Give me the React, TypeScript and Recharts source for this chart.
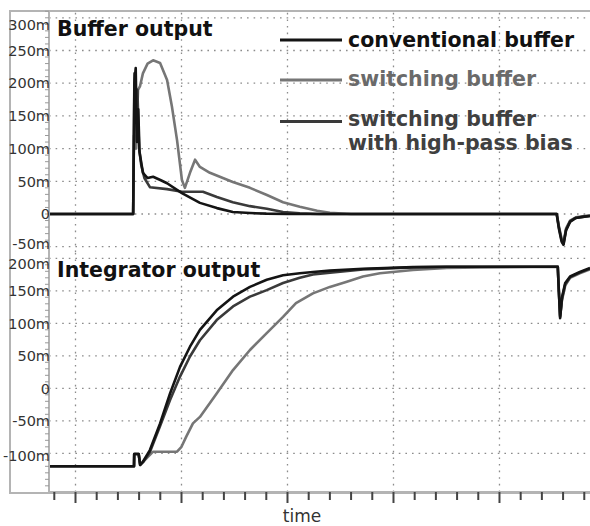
import React from 'react';
import { LineChart, Line, XAxis, YAxis, ReferenceLine, Legend } from 'recharts';

// ---- time axis (arbitrary units, one minor tick per unit) ----
const X_DOMAIN: [number, number] = [-0.25, 25.27];
const TIME_TICKS = [0, 1, 2, 3, 4, 5, 6, 7, 8, 9, 10, 11, 12, 13, 14, 15, 16, 17, 18, 19, 20, 21, 22, 23, 24, 25];
const TIME_MAJOR = [1, 6, 11, 16, 21];

// ---- Buffer output (mV) ----
const BUF_DOMAIN: [number, number] = [-58.1, 311.9];
const BUF_TICKS = [-50, -40, -30, -20, -10, 0, 10, 20, 30, 40, 50, 60, 70, 80, 90, 100, 110, 120, 130, 140, 150, 160, 170, 180, 190, 200, 210, 220, 230, 240, 250, 260, 270, 280, 290, 300, 310];
const BUF_LABELS = [-50, 0, 50, 100, 150, 200, 250, 300];

const convBufT = [-0.25, 3.72, 3.78, 3.84, 3.9, 3.96, 4.02, 4.18, 4.4, 4.66, 5.0, 5.32, 6.02, 6.87, 7.67, 8.42, 9.23, 10.0, 11.0, 23.7, 23.8, 23.93, 24.02, 24.14, 24.33, 24.6, 25.0, 25.27];
const convBufV = [0, 0, 200, 223, 110, 160, 95, 63, 55, 57, 52, 47, 32, 17, 9, 3, 1.5, 0.5, 0, 0, -22, -42, -47, -25, -12, -6, -4, -3];

const swBufT = [-0.25, 3.72, 3.76, 3.85, 3.95, 4.04, 4.18, 4.4, 4.66, 4.99, 5.32, 5.55, 5.79, 6.02, 6.16, 6.4, 6.64, 6.87, 7.34, 8.42, 9.23, 10.03, 10.79, 11.58, 12.4, 13.0, 14.0, 23.7, 23.8, 23.93, 24.02, 24.14, 24.33, 24.6, 25.0, 25.27];
const swBufV = [0, 0, 120, 100, 190, 195, 215, 230, 235, 231, 205, 164, 113, 52, 40, 63, 83, 72, 63, 49, 40, 29, 18, 11, 5, 2, 0, 0, -18, -38, -44, -22, -10, -5, -3, -2];

const hpBufT = [-0.25, 3.72, 3.78, 3.86, 3.92, 4.0, 4.1, 4.25, 4.51, 5.32, 6.02, 7.01, 7.67, 8.42, 9.23, 10.03, 10.79, 11.58, 12.5, 23.7, 23.8, 23.93, 24.02, 24.14, 24.33, 24.6, 25.0, 25.27];
const hpBufV = [0, 0, 215, 150, 190, 100, 75, 55, 41, 38, 34, 34, 26, 18, 12, 8, 3, 1, 0, 0, -20, -40, -46, -24, -11, -6, -4, -3];

// ---- Integrator output (mV) ----
const INT_DOMAIN: [number, number] = [-159.5, 209.7];
const INT_TICKS = [-150, -140, -130, -120, -110, -100, -90, -80, -70, -60, -50, -40, -30, -20, -10, 0, 10, 20, 30, 40, 50, 60, 70, 80, 90, 100, 110, 120, 130, 140, 150, 160, 170, 180, 190, 200];
const INT_LABELS = [-100, -50, 0, 50, 100, 150, 200];

const convIntT = [-0.25, 3.76, 3.77, 3.98, 4.05, 4.18, 4.51, 4.99, 5.46, 5.93, 6.4, 6.87, 7.66, 8.43, 9.23, 10.02, 10.79, 11.58, 12.2, 13.0, 14.56, 16.92, 18.52, 23.75, 23.8, 23.86, 23.95, 24.1, 24.33, 24.79, 25.27];
const convIntV = [-120, -120, -101, -101, -118, -113, -95, -54, -8, 33, 64, 90, 120, 141, 156, 167, 174, 177, 179, 181, 184, 186.5, 187, 187, 150, 108, 140, 162, 172, 179, 185];

const swIntT = [-0.25, 3.76, 3.77, 3.98, 4.05, 4.28, 4.66, 5.79, 6.0, 6.23, 6.54, 6.87, 7.66, 8.43, 9.23, 10.02, 10.79, 11.4, 12.2, 13.0, 13.8, 14.56, 15.36, 16.92, 18.52, 20.08, 23.75, 23.8, 23.86, 23.95, 24.1, 24.33, 24.79, 25.27];
const swIntV = [-120, -120, -101, -101, -117, -110, -97.5, -97.5, -90, -74, -54, -44, -8, 28, 59, 85, 110, 131, 146, 156, 164, 172, 177, 182, 185, 186, 187, 150, 112, 136, 158, 170, 177, 183];

const hpIntT = [-0.25, 3.76, 3.77, 3.98, 4.05, 4.18, 4.51, 4.99, 5.46, 5.93, 6.4, 6.87, 7.66, 8.43, 9.23, 10.02, 10.79, 11.58, 12.2, 13.0, 14.56, 16.92, 18.52, 23.75, 23.8, 23.86, 23.95, 24.1, 24.33, 24.79, 25.27];
const hpIntV = [-120, -120, -101, -101, -118, -114, -98, -58, -18, 18, 49, 74, 105, 126, 141, 151, 162, 170, 175, 178, 183, 186, 187, 187, 150, 110, 138, 160, 171, 178, 184];

const SERIES = ['conventional buffer', 'switching buffer', 'switching buffer with high-pass bias'];
const COLORS = ['#141414', '#767676', '#3a3a3a'];

const zip = (t: number[], v: number[]) => t.map((tt, i) => ({ t: tt, v: v[i] }));

const FONT = 'DejaVu Sans, Verdana, sans-serif';
const FRAME = '#b4b4b4';
const GRID = '#8c8c8c';
const DASH = '1.6 5';

const fmt = (v: number) => (v === 0 ? '0' : `${v}m`);

const YTick = (props: any) => {
  const { x, y, payload, labels, shift } = props;
  const v = payload.value;
  const dy = (shift && shift[v]) || 0;
  return (
    <g>
      <line x1={x - 4} x2={x} y1={y} y2={y} stroke="#9a9a9a" strokeWidth={1} />
      {labels.includes(v) && (
        <text x={x + 1} y={y + dy} dy="0.36em" textAnchor="end" fontSize={14.5} fill="#333" fontFamily={FONT}>
          {fmt(v)}
        </text>
      )}
    </g>
  );
};

const XTick = (props: any) => {
  const { x, y, payload } = props;
  const major = TIME_MAJOR.includes(payload.value);
  return <line x1={x} x2={x} y1={y} y2={y + (major ? 11 : 8)} stroke="#444" strokeWidth={2} />;
};

const TopOverlay = () => (
  <svg width={590} height={160} style={{ display: 'block', pointerEvents: 'none' }}>
    <text x={57} y={36} fontSize={20.5} fontWeight="bold" fontFamily={FONT} fill="#111">Buffer output</text>
    <line x1={280} x2={342} y1={40} y2={40} stroke={COLORS[0]} strokeWidth={3} />
    <line x1={280} x2={342} y1={80} y2={80} stroke={COLORS[1]} strokeWidth={3} />
    <line x1={280} x2={342} y1={121.5} y2={121.5} stroke={COLORS[2]} strokeWidth={3} />
    <text x={348} y={47} fontSize={20.5} fontWeight="bold" fontFamily={FONT} fill="#111">{SERIES[0]}</text>
    <text x={348} y={86} fontSize={20.5} fontWeight="bold" fontFamily={FONT} fill="#6a6a6a">{SERIES[1]}</text>
    <text x={348} y={126} fontSize={20.5} fontWeight="bold" fontFamily={FONT} fill="#404040">switching buffer</text>
    <text x={348} y={150} fontSize={20.5} fontWeight="bold" fontFamily={FONT} fill="#404040">with high-pass bias</text>
  </svg>
);

const BottomOverlay = () => (
  <svg width={590} height={274} style={{ display: 'block', pointerEvents: 'none' }}>
    <text x={57} y={25} fontSize={20.5} fontWeight="bold" fontFamily={FONT} fill="#111">Integrator output</text>
    <text x={302} y={270} textAnchor="middle" fontSize={17} fontFamily={FONT} fill="#333">time</text>
  </svg>
);

const gridLines = (yVals: number[]) => [
  ...yVals.map((v) => (
    <ReferenceLine key={`h${v}`} y={v} stroke={GRID} strokeDasharray={DASH} strokeWidth={1.3} ifOverflow="hidden" />
  )),
  ...TIME_MAJOR.map((v) => (
    <ReferenceLine key={`v${v}`} x={v} stroke={GRID} strokeDasharray={DASH} strokeWidth={1.3} ifOverflow="hidden" />
  )),
];

export default function App() {
  return (
    <div style={{ position: 'absolute', left: 0, top: 0, width: 590, height: 526, overflow: 'hidden', background: '#fff' }}>
      <div
        style={{
          position: 'absolute', left: 9, top: 10, width: 600, height: 480,
          borderLeft: `2px solid ${FRAME}`, borderTop: `2px solid ${FRAME}`, borderBottom: `2px solid ${FRAME}`,
        }}
      />
      <div style={{ position: 'absolute', left: 0, top: 0 }}>
        <LineChart width={590} height={254} margin={{ top: 10, right: 0, left: 0, bottom: 2 }}>
          <XAxis
            type="number"
            dataKey="t"
            domain={X_DOMAIN}
            allowDataOverflow
            height={0}
            tick={false}
            tickLine={false}
            axisLine={{ stroke: FRAME, strokeWidth: 2 }}
          />
          <YAxis
            type="number"
            domain={BUF_DOMAIN}
            allowDataOverflow
            ticks={BUF_TICKS}
            interval={0}
            width={49}
            tickSize={0}
            tickMargin={0}
            tickLine={false}
            axisLine={{ stroke: FRAME, strokeWidth: 2 }}
            tick={(p: any) => <YTick {...p} labels={BUF_LABELS} shift={{ 300: 7, '-50': -3 }} />}
          />
          {gridLines(BUF_LABELS)}
          <Line data={zip(swBufT, swBufV)} dataKey="v" name={SERIES[1]} stroke={COLORS[1]} strokeWidth={2.6} dot={false} isAnimationActive={false} strokeLinejoin="round" />
          <Line data={zip(hpBufT, hpBufV)} dataKey="v" name={SERIES[2]} stroke={COLORS[2]} strokeWidth={2.6} dot={false} isAnimationActive={false} strokeLinejoin="round" />
          <Line data={zip(convBufT, convBufV)} dataKey="v" name={SERIES[0]} stroke={COLORS[0]} strokeWidth={2.6} dot={false} isAnimationActive={false} strokeLinejoin="round" />
          <Legend layout="vertical" align="center" verticalAlign="middle" wrapperStyle={{ left: 0, top: 0, width: 590, height: 160 }} content={() => <TopOverlay />} />
        </LineChart>
      </div>
      <div style={{ position: 'absolute', left: 0, top: 252 }}>
        <LineChart width={590} height={274} margin={{ top: 0, right: 0, left: 0, bottom: 0 }}>
          <XAxis
            type="number"
            dataKey="t"
            domain={X_DOMAIN}
            allowDataOverflow
            ticks={TIME_TICKS}
            interval={0}
            height={34}
            tickSize={0}
            tickMargin={0}
            tickLine={false}
            axisLine={{ stroke: FRAME, strokeWidth: 2 }}
            tick={(p: any) => <XTick {...p} />}
          />
          <YAxis
            type="number"
            domain={INT_DOMAIN}
            allowDataOverflow
            ticks={INT_TICKS}
            interval={0}
            width={49}
            tickSize={0}
            tickMargin={0}
            tickLine={false}
            axisLine={{ stroke: FRAME, strokeWidth: 2 }}
            tick={(p: any) => <YTick {...p} labels={INT_LABELS} shift={{ 200: 5, '-100': 2 }} />}
          />
          {gridLines(INT_LABELS)}
          <Line data={zip(swIntT, swIntV)} dataKey="v" name={SERIES[1]} stroke={COLORS[1]} strokeWidth={2.6} dot={false} isAnimationActive={false} strokeLinejoin="round" />
          <Line data={zip(hpIntT, hpIntV)} dataKey="v" name={SERIES[2]} stroke={COLORS[2]} strokeWidth={2.6} dot={false} isAnimationActive={false} strokeLinejoin="round" />
          <Line data={zip(convIntT, convIntV)} dataKey="v" name={SERIES[0]} stroke={COLORS[0]} strokeWidth={2.6} dot={false} isAnimationActive={false} strokeLinejoin="round" />
          <Legend layout="vertical" align="center" verticalAlign="middle" wrapperStyle={{ left: 0, top: 0, width: 590, height: 274 }} content={() => <BottomOverlay />} />
        </LineChart>
      </div>
    </div>
  );
}
